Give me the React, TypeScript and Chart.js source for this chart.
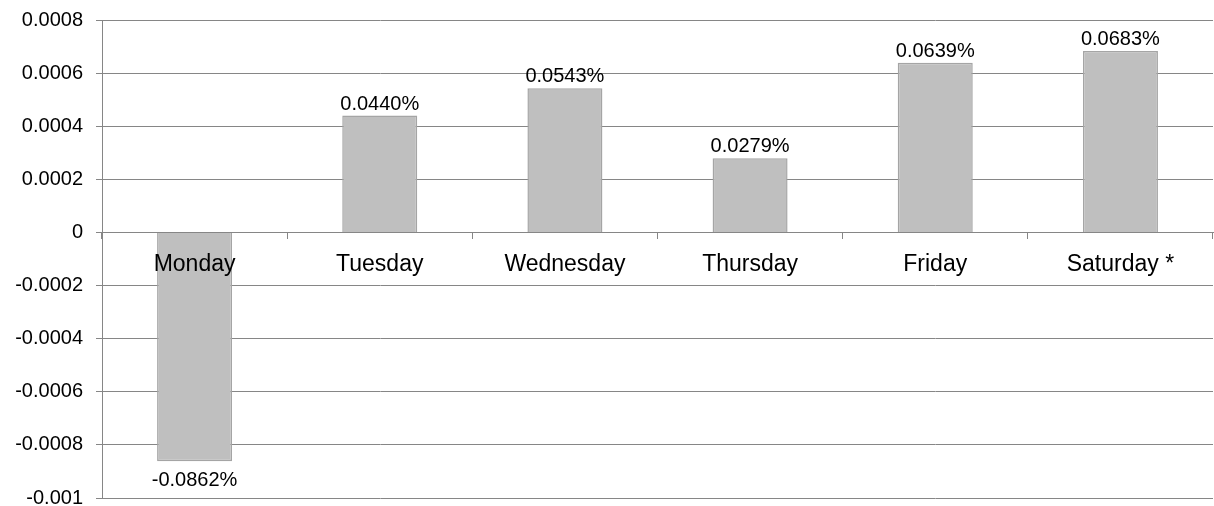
import React, { useEffect, useRef } from "react";
import { Chart, registerables } from "chart.js";

Chart.register(...registerables);

const days = ["Monday", "Tuesday", "Wednesday", "Thursday", "Friday", "Saturday *"];
const returns = [-0.000862, 0.00044, 0.000543, 0.000279, 0.000639, 0.000683];
const yMin = -0.001;
const yMax = 0.0008;
const yStep = 0.0002;

const FONT = "'Liberation Sans', Arial, sans-serif";

const valueLabels = {
  id: "valueLabels",
  afterDatasetsDraw(chart: any) {
    const ctx = chart.ctx;
    const meta = chart.getDatasetMeta(0);
    ctx.save();
    ctx.font = `20px ${FONT}`;
    ctx.fillStyle = "#000000";
    ctx.textAlign = "center";
    meta.data.forEach((bar: any, i: number) => {
      const v = returns[i];
      const txt = (v * 100).toFixed(4) + "%";
      if (v >= 0) {
        ctx.textBaseline = "alphabetic";
        ctx.fillText(txt, bar.x, bar.y - 6);
      } else {
        ctx.textBaseline = "top";
        ctx.fillText(txt, bar.x, bar.y + 9);
      }
    });
    ctx.restore();
  },
};

export default function App() {
  const ref = useRef<HTMLCanvasElement | null>(null);
  useEffect(() => {
    if (!ref.current) return;
    const chart = new Chart(ref.current, {
      type: "bar",
      data: {
        labels: days,
        datasets: [
          {
            data: returns,
            backgroundColor: "#BFBFBF",
            borderColor: "#A5A5A5",
            borderWidth: 1.5,
            categoryPercentage: 1,
            barPercentage: 0.405,
          },
        ],
      },
      plugins: [valueLabels],
      options: {
        animation: false,
        responsive: false,
        devicePixelRatio: 1,
        layout: { padding: { top: 20, bottom: 8, right: 1, left: 0 } },
        plugins: { legend: { display: false }, tooltip: { enabled: false } },
        scales: {
          x: {
            position: { y: 0 } as any,
            grid: {
              display: true,
              offset: true,
              drawOnChartArea: false,
              drawTicks: true,
              tickLength: 6,
              color: "#868686",
              lineWidth: 1,
            },
            border: { display: true, color: "#868686", width: 1, z: 1 } as any,
            ticks: {
              z: 1,
              color: "#000000",
              font: { family: FONT, size: 23 },
              padding: 12,
              maxRotation: 0,
              autoSkip: false,
            },
          },
          y: {
            min: yMin,
            max: yMax,
            afterFit(scale: any) {
              scale.width = 102;
              scale.paddingTop = 0;
              scale.paddingBottom = 0;
            },
            grid: {
              color: "#868686",
              lineWidth: 1,
              tickLength: 6,
            },
            border: { display: true, color: "#868686", width: 1 },
            ticks: {
              stepSize: yStep,
              color: "#000000",
              font: { family: FONT, size: 20 },
              padding: 13,
              callback: (v: any) => Number(Number(v).toFixed(4)).toString(),
            },
          },
        },
      },
    });
    return () => chart.destroy();
  }, []);
  return (
    <div style={{ position: "fixed", left: 0, top: 0, width: 1214, height: 506, background: "#fff" }}>
      <canvas ref={ref} width={1214} height={506} style={{ width: 1214, height: 506 }} />
    </div>
  );
}
